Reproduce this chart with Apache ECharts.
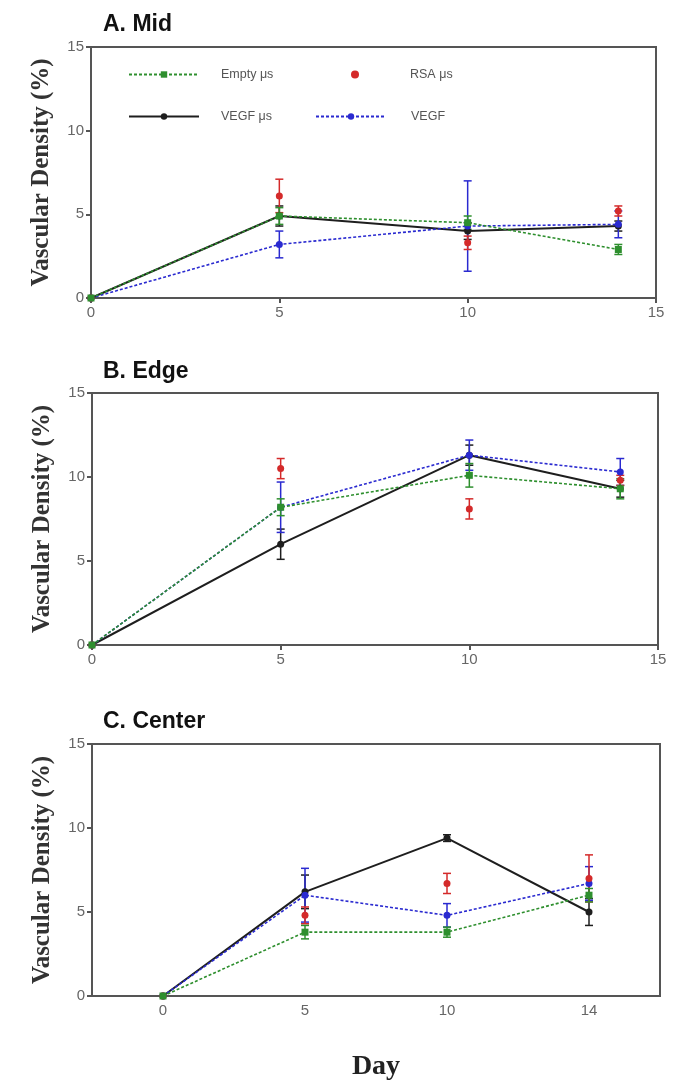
<!DOCTYPE html>
<html><head><meta charset="utf-8">
<script src="https://cdn.jsdelivr.net/npm/echarts@6/dist/echarts.min.js"></script>
<style>html,body{margin:0;padding:0;background:#fff}#c{width:682px;height:1085px}</style>
</head><body><div id="c"></div>
<script>
const days = [0, 5, 10, 14];
const catDays = ['0', '5', '10', '14'];
const yTicks = [0, 5, 10, 15];
const seriesNames = ['Empty μs', 'RSA μs', 'VEGF μs', 'VEGF'];
const panelTitles = ['A. Mid', 'B. Edge', 'C. Center'];

// Panel A (Mid)
const emptyA = [0, 4.9, 4.5, 2.9];
const emptyAErr = [0, 0.5, 0.4, 0.3];
const rsaA = [0, 6.1, 3.3, 5.2];
const rsaAErr = [0, 1.0, 0.4, 0.3];
const vegfMsA = [0, 4.9, 4.0, 4.3];
const vegfMsAErr = [0, 0.6, 0.5, 0.3];
const vegfA = [0, 3.2, 4.3, 4.4];
const vegfAErr = [0, 0.8, 2.7, 0.8];

// Panel B (Edge)
const emptyB = [0, 8.2, 10.1, 9.3];
const emptyBErr = [0, 0.5, 0.7, 0.6];
const rsaB = [0, 10.5, 8.1, 9.8];
const rsaBErr = [0, 0.6, 0.6, 0.3];
const vegfMsB = [0, 6.0, 11.3, 9.3];
const vegfMsBErr = [0, 0.9, 0.6, 0.5];
const vegfB = [0, 8.2, 11.3, 10.3];
const vegfBErr = [0, 1.5, 0.9, 0.8];

// Panel C (Center)
const emptyC = [0, 3.8, 3.8, 6.0];
const emptyCErr = [0, 0.4, 0.3, 0.4];
const rsaC = [0, 4.8, 6.7, 7.0];
const rsaCErr = [0, 0.5, 0.6, 1.4];
const vegfMsC = [0, 6.2, 9.4, 5.0];
const vegfMsCErr = [0, 1.0, 0.2, 0.8];
const vegfC = [0, 6.0, 4.8, 6.7];
const vegfCErr = [0, 1.6, 0.7, 1.0];

const panels = [
  {empty: emptyA, emptyErr: emptyAErr, rsa: rsaA, rsaErr: rsaAErr, vms: vegfMsA, vmsErr: vegfMsAErr, v: vegfA, vErr: vegfAErr},
  {empty: emptyB, emptyErr: emptyBErr, rsa: rsaB, rsaErr: rsaBErr, vms: vegfMsB, vmsErr: vegfMsBErr, v: vegfB, vErr: vegfBErr},
  {empty: emptyC, emptyErr: emptyCErr, rsa: rsaC, rsaErr: rsaCErr, vms: vegfMsC, vmsErr: vegfMsCErr, v: vegfC, vErr: vegfCErr}
];

const COL = {empty: '#2e8f2e', rsa: '#d42a2a', vms: '#1e1e1e', v: '#2a2ad0'};
const grids = [
  {left: 91, right: 26, top: 47, height: 251},
  {left: 92, right: 24, top: 393, height: 252},
  {left: 92, right: 22, top: 744, height: 252}
];

const chart = echarts.init(document.getElementById('c'));
const axisCol = '#555';
const tickLbl = {color: '#666', fontSize: 15, fontFamily: 'Liberation Sans, Arial', margin: 7};

const xAxes = [], yAxes = [], series = [];
grids.forEach((g, i) => {
  const isCat = i === 2;
  if (isCat) {
    xAxes.push({type: 'category', gridIndex: i, data: catDays, boundaryGap: true,
      axisLine: {lineStyle: {color: axisCol, width: 2}},
      axisTick: {alignWithLabel: true, length: 5, lineStyle: {color: axisCol, width: 2}},
      axisLabel: tickLbl,
      name: 'Day', nameLocation: 'middle', nameGap: 57,
      nameTextStyle: {fontFamily: 'Liberation Serif, Times New Roman', fontWeight: 'bold', fontSize: 28, color: '#222'}});
  } else {
    xAxes.push({type: 'value', gridIndex: i, min: 0, max: 15, interval: 5,
      axisLine: {lineStyle: {color: axisCol, width: 2}},
      axisTick: {length: 5, lineStyle: {color: axisCol, width: 2}},
      axisLabel: tickLbl, splitLine: {show: false}});
  }
  yAxes.push({type: 'value', gridIndex: i, min: 0, max: 15, interval: 5,
    axisLine: {show: true, lineStyle: {color: axisCol, width: 2}},
    axisTick: {show: true, length: 5, lineStyle: {color: axisCol, width: 2}},
    axisLabel: tickLbl, splitLine: {show: false},
    name: 'Vascular Density (%)', nameLocation: 'middle', nameGap: 37,
    nameTextStyle: {fontFamily: 'Liberation Serif, Times New Roman', fontWeight: 'bold', fontSize: 25, color: '#333'}});

  const p = panels[i];
  const xOf = (k) => isCat ? k : days[k];
  const pts = (arr) => arr.map((v, k) => [xOf(k), v]);
  const errs = (arr, e) => arr.map((v, k) => [xOf(k), v - e[k], v + e[k]]).filter((d, k) => e[k] > 0);

  const defs = [
    {key: 'vms', name: seriesNames[2], line: {color: COL.vms, width: 2, type: 'solid'}, sym: 'circle'},
    {key: 'v', name: seriesNames[3], line: {color: COL.v, width: 1.6, type: [3, 2]}, sym: 'circle'},
    {key: 'rsa', name: seriesNames[1], line: null, sym: 'circle'},
    {key: 'empty', name: seriesNames[0], line: {color: COL.empty, width: 1.6, type: [3, 2]}, sym: 'rect'}
  ];
  defs.forEach(d => {
    const col = COL[d.key];
    if (d.line) {
      series.push({type: 'line', name: d.name, xAxisIndex: i, yAxisIndex: i,
        data: pts(p[d.key]), symbol: d.sym, symbolSize: 7, showSymbol: true,
        lineStyle: d.line, itemStyle: {color: col, opacity: 1}, animation: false, z: 3});
    } else {
      series.push({type: 'scatter', name: d.name, xAxisIndex: i, yAxisIndex: i,
        data: pts(p[d.key]), symbol: 'circle', symbolSize: 7,
        itemStyle: {color: col, opacity: 1}, animation: false, z: 3});
    }
    series.push({
      type: 'custom', name: d.name + ' error', xAxisIndex: i, yAxisIndex: i,
      data: errs(p[d.key], p[d.key + 'Err']), encode: {x: 0, y: [1, 2]}, silent: true, z: 2,
      itemStyle: {color: col},
      renderItem: (params, api) => {
        const x = api.value(0);
        const a = api.coord([x, api.value(2)]);
        const b = api.coord([x, api.value(1)]);
        const w = 4;
        const st = {stroke: col, lineWidth: 1.5};
        return {type: 'group', children: [
          {type: 'line', shape: {x1: a[0], y1: a[1], x2: b[0], y2: b[1]}, style: st},
          {type: 'line', shape: {x1: a[0] - w, y1: a[1], x2: a[0] + w, y2: a[1]}, style: st},
          {type: 'line', shape: {x1: b[0] - w, y1: b[1], x2: b[0] + w, y2: b[1]}, style: st}
        ]};
      }
    });
  });
});

const mkLegend = (name, left, top, w, pad) => ({data: [name], left: left, top: top, itemWidth: w, itemHeight: 8,
  padding: 0, selectedMode: false,
  textStyle: {color: '#555', fontSize: 12.5, fontFamily: 'Liberation Sans, Arial', padding: [0, 0, 0, pad]}});

const option = {
  backgroundColor: '#fff',
  animation: false,
  title: panelTitles.map((t, i) => ({text: t, left: 98, top: [8, 355, 705][i],
    textStyle: {fontFamily: 'Liberation Sans, Arial', fontWeight: 'bold', fontSize: 23, color: '#111'}})),
  grid: grids.map(g => Object.assign({show: true, borderColor: axisCol, borderWidth: 2, backgroundColor: 'transparent'}, g)),
  xAxis: xAxes,
  yAxis: yAxes,
  legend: [
    mkLegend(seriesNames[0], 128, 68, 70, 17),
    mkLegend(seriesNames[1], 351, 68, 8, 46),
    mkLegend(seriesNames[2], 128, 110, 70, 17),
    mkLegend(seriesNames[3], 315, 110, 70, 20)
  ],
  series: series
};
chart.setOption(option);
</script></body></html>
